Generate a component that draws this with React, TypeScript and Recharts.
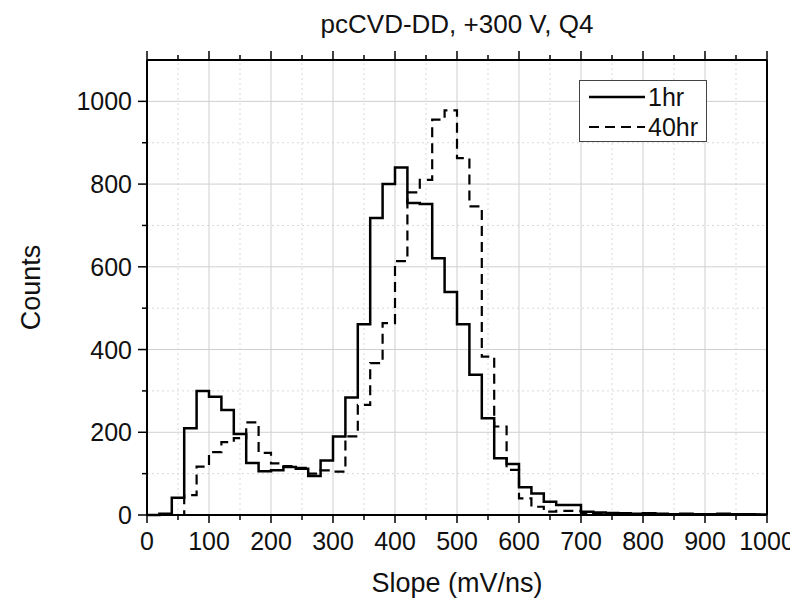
import React from 'react';
import { LineChart, Line, XAxis, YAxis, ReferenceLine, Legend, Label } from 'recharts';

// bin start (mV/ns), 20 mV/ns bins; the last entry closes the final step
const slopeBins = [
  0, 20, 40, 60, 80, 100, 120, 140, 160, 180, 200, 220, 240, 260, 280, 300, 320, 340, 360, 380,
  400, 420, 440, 460, 480, 500, 520, 540, 560, 580, 600, 620, 640, 660, 680, 700, 720, 740, 760, 780,
  800, 820, 840, 860, 880, 900, 920, 940, 960, 980, 1000,
];

const counts1hr = [
  0, 3, 42, 210, 300, 286, 254, 196, 126, 106, 108, 116, 112, 94, 132, 190, 284, 461, 718, 800,
  840, 754, 752, 621, 539, 461, 339, 234, 137, 123, 67, 52, 32, 24, 24, 8, 6, 5, 4, 3,
  4, 3, 2, 3, 2, 2, 3, 2, 2, 1, 1,
];

const counts40hr = [
  0, 0, 0, 48, 117, 152, 176, 186, 224, 150, 125, 118, 114, 100, 108, 105, 190, 266, 367, 464,
  614, 780, 810, 956, 978, 863, 746, 383, 214, 109, 40, 20, 8, 10, 10, 5, 4, 3, 3, 2,
  2, 2, 1, 2, 1, 1, 1, 1, 1, 1, 1,
];

const xTicks = [0, 50, 100, 150, 200, 250, 300, 350, 400, 450, 500, 550, 600, 650, 700, 750, 800, 850, 900, 950, 1000];
const yTicks = [0, 100, 200, 300, 400, 500, 600, 700, 800, 900, 1000];
const xMajorGrid = [100, 200, 300, 400, 500, 600, 700, 800, 900];
const xMinorGrid = [50, 150, 250, 350, 450, 550, 650, 750, 850, 950];
const yMajorGrid = [200, 400, 600, 800, 1000];
const yMinorGrid = [100, 300, 500, 700, 900];

const data = slopeBins.map((s, i) => ({ slope: s, hr1: counts1hr[i], hr40: counts40hr[i] }));

const FONT = '"Liberation Sans", Arial, sans-serif';
const DASH = '10 6';
const MAJOR_GRID = '#cfcfcf';
const MINOR_GRID = '#d9d9d9';

const BottomTick = ({ x, y, payload }: any) => {
  const major = payload.value % 100 === 0;
  return (
    <g>
      <line x1={x} x2={x} y1={y} y2={y + (major ? 8 : 5)} stroke="#000" strokeWidth={1.5} />
      {major && (
        <text x={x} y={y + 35} textAnchor="middle" fontSize={25} fill="#111">
          {payload.value}
        </text>
      )}
    </g>
  );
};

const TopTick = ({ x, y, payload }: any) => {
  const major = payload.value % 100 === 0;
  return <line x1={x} x2={x} y1={y} y2={y - (major ? 9 : 5)} stroke="#000" strokeWidth={1.5} />;
};

const LeftTick = ({ x, y, payload }: any) => {
  const major = payload.value % 200 === 0;
  return (
    <g>
      <line x1={x - (major ? 9 : 5)} x2={x} y1={y} y2={y} stroke="#000" strokeWidth={1.5} />
      {major && (
        <text x={x - 15} y={y} dy="0.36em" textAnchor="end" fontSize={25} fill="#111">
          {payload.value}
        </text>
      )}
    </g>
  );
};

const RightTick = ({ x, y, payload }: any) => {
  const major = payload.value % 200 === 0;
  return <line x1={x} x2={x + (major ? 9 : 5)} y1={y} y2={y} stroke="#000" strokeWidth={1.5} />;
};

const LegendBox = () => (
  <svg width={128} height={62} style={{ display: 'block' }}>
    <rect x={0.5} y={0.5} width={127} height={61} fill="#fff" stroke="#444" strokeWidth={1} />
    <line x1={10} x2={66} y1={17} y2={17} stroke="#000" strokeWidth={2.5} />
    <text x={69} y={17} dy="0.36em" fontSize={25} fill="#111" fontFamily={FONT}>1hr</text>
    <line x1={10} x2={66} y1={47} y2={47} stroke="#000" strokeWidth={2.2} strokeDasharray={DASH} />
    <text x={69} y={47} dy="0.36em" fontSize={25} fill="#111" fontFamily={FONT}>40hr</text>
  </svg>
);

export default function App() {
  return (
    <div style={{ width: 790, height: 594, fontFamily: FONT }}>
      <LineChart width={790} height={594} data={data} margin={{ top: 0, right: 0, bottom: 0, left: 0 }}>
        {xMinorGrid.map((v) => (
          <ReferenceLine key={`xm${v}`} x={v} stroke={MINOR_GRID} strokeDasharray="2 3" />
        ))}
        {yMinorGrid.map((v) => (
          <ReferenceLine key={`ym${v}`} y={v} stroke={MINOR_GRID} strokeDasharray="2 3" />
        ))}
        {xMajorGrid.map((v) => (
          <ReferenceLine key={`xM${v}`} x={v} stroke={MAJOR_GRID} />
        ))}
        {yMajorGrid.map((v) => (
          <ReferenceLine key={`yM${v}`} y={v} stroke={MAJOR_GRID} />
        ))}
        <XAxis
          dataKey="slope"
          type="number"
          domain={[0, 1000]}
          ticks={xTicks}
          interval={0}
          height={87}
          tickSize={0}
          tickMargin={0}
          tickLine={false}
          tick={(p: any) => <BottomTick {...p} />}
          axisLine={{ stroke: '#000', strokeWidth: 2 }}
        >
          <Label value="Slope (mV/ns)" position="insideBottom" offset={10} style={{ fontSize: 27, fill: '#111' }} />
        </XAxis>
        <XAxis
          xAxisId="top"
          orientation="top"
          dataKey="slope"
          type="number"
          domain={[0, 1000]}
          ticks={xTicks}
          interval={0}
          height={52}
          tickSize={0}
          tickMargin={0}
          tickLine={false}
          tick={(p: any) => <TopTick {...p} />}
          axisLine={{ stroke: '#000', strokeWidth: 2 }}
        >
          <Label value="pcCVD-DD, +300 V, Q4" position="insideTop" offset={7} style={{ fontSize: 26, fill: '#111' }} />
        </XAxis>
        <YAxis
          type="number"
          domain={[0, 1100]}
          ticks={yTicks}
          interval={0}
          width={139}
          tickSize={0}
          tickMargin={0}
          tickLine={false}
          tick={(p: any) => <LeftTick {...p} />}
          axisLine={{ stroke: '#000', strokeWidth: 2 }}
        >
          <Label
            value="Counts"
            angle={-90}
            position="insideLeft"
            offset={22}
            style={{ fontSize: 27, fill: '#111', textAnchor: 'middle' }}
          />
        </YAxis>
        <YAxis
          yAxisId="right"
          orientation="right"
          type="number"
          domain={[0, 1100]}
          ticks={yTicks}
          interval={0}
          width={31}
          tickSize={0}
          tickMargin={0}
          tickLine={false}
          tick={(p: any) => <RightTick {...p} />}
          axisLine={{ stroke: '#000', strokeWidth: 2 }}
        />
        <Line
          type="stepAfter"
          dataKey="hr1"
          stroke="#000"
          strokeWidth={2.5}
          dot={false}
          activeDot={false}
          isAnimationActive={false}
        />
        <Line
          type="stepAfter"
          dataKey="hr40"
          stroke="#000"
          strokeWidth={2.2}
          strokeDasharray={DASH}
          dot={false}
          activeDot={false}
          isAnimationActive={false}
        />
        <Legend
          layout="vertical"
          align="center"
          verticalAlign="middle"
          content={() => <LegendBox />}
          wrapperStyle={{ left: 571, top: 72, width: 128, height: 62 }}
        />
      </LineChart>
    </div>
  );
}
